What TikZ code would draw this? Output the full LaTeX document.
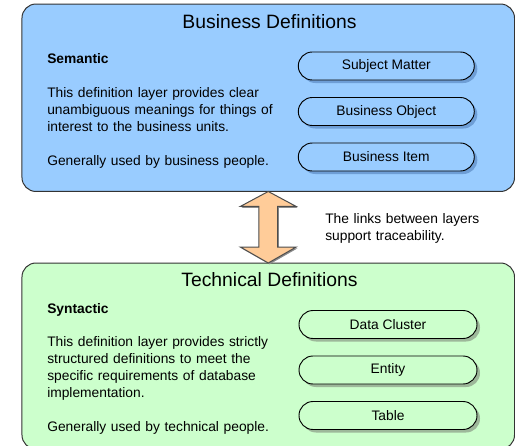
\documentclass[tikz,border=0pt]{standalone}
\usepackage{fontspec}
\setmainfont{Liberation Sans}
\usetikzlibrary{calc,shadows}
\definecolor{bizblue}{HTML}{99CCFF}
\definecolor{bizshade}{HTML}{6E9ED6}
\definecolor{techgreen}{HTML}{CCFFCC}
\definecolor{techshade}{HTML}{9DB89A}
\definecolor{linkorange}{HTML}{FFCC99}

\begin{document}
\begin{tikzpicture}[x=0.75pt,y=-0.75pt,font=\fontsize{10.35}{12.75}\selectfont,
  layer/.style={draw=black!80,line width=0.75pt,rounded corners=10.5pt,
    inner sep=0pt,outer sep=0pt,minimum width=369.4pt},
  pill/.style={draw,line width=0.7pt,rounded corners=10.5pt,inner sep=0pt,
    minimum height=21pt,
    drop shadow={shadow xshift=2.25pt,shadow yshift=-2.25pt,fill=#1,opacity=1}},
  textblock/.style={anchor=base west,align=left,inner sep=0pt,text width=200pt},
  title/.style={anchor=base,inner sep=0pt,font=\fontsize{14.5}{17}\selectfont}]
\useasboundingbox (0,0) rectangle (515,446);
% the two layers
\node[layer,fill=bizblue,minimum height=140.6pt] (biz) at (268.25,97.75) {};
\node[layer,fill=techgreen,minimum height=139.5pt] (tech) at (268.25,356) {};
\node[title] (biz-title) at (269.5,28.3) {Business Definitions};
\node[title] (tech-title) at (269.5,286) {Technical Definitions};
% left hand texts
\node[textblock] (biz-head) at (47,64) {\bfseries Semantic};
\node[textblock] (biz-text) at (47,97.7) {This definition layer provides clear\\
  unambiguous meanings for things of\\interest to the business units.};
\node[textblock] (biz-use) at (47,165.7) {Generally used by business people.};
\node[textblock] (tech-head) at (47,313.3) {\bfseries Syntactic};
\node[textblock] (tech-text) at (47,346.7) {This definition layer provides strictly\\
  structured definitions to meet the\\specific requirements of database\\implementation.};
\node[textblock] (tech-use) at (47,431) {Generally used by technical people.};
% the levels
\foreach \X [count=\Y] in {Subject Matter, Business Object, Business Item}
  \node[pill=bizshade,fill=bizblue,minimum width=132pt] (B-\Y) at (386.3,{20.5+45.5*\Y}) {\X};
\foreach \X [count=\Y] in {Data Cluster, Entity, Table}
  \node[pill=techshade,fill=techgreen,minimum width=133.5pt] (T-\Y) at (388,{279+45.5*\Y}) {\X};
% link between the layers
\draw[draw=black!70,fill=linkorange,line width=0.75pt,line join=miter,
  drop shadow={shadow xshift=1pt,shadow yshift=-1pt,fill=black!45,opacity=1}]
  (biz.south) -- ++(28,15) -- ++(-18.6,0) -- ($(tech.north)+(9.4,-16)$) -- ++(18.6,0)
  -- (tech.north) -- ++(-28,-16) -- ++(18.6,0) -- ($(biz.south)+(-9.4,15)$)
  -- ++(-18.6,0) -- cycle;
\node[textblock] (links) at (325,223.3) {The links between layers\\support traceability.};
\end{tikzpicture}
\end{document}
